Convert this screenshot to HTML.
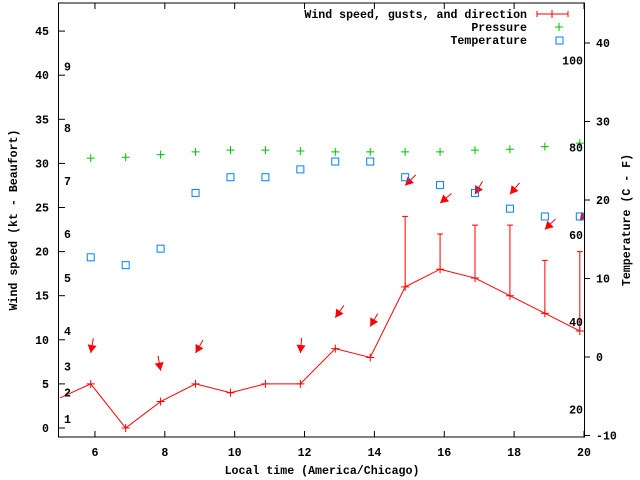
<!DOCTYPE html>
<html><head><meta charset="utf-8"><style>
body{margin:0;background:#fff}
svg{display:block;font-family:"Liberation Mono",monospace;font-size:11.6px;font-weight:bold}
</style></head><body>
<svg id="chart" width="640" height="480" viewBox="0 0 640 480" xmlns="http://www.w3.org/2000/svg"></svg>
<script>
const hours=[4.88,5.88,6.88,7.88,8.88,9.88,10.88,11.88,12.88,13.88,14.88,15.88,16.88,17.88,18.88,19.88];
const windSpeed=[3.2,5,0,3,5,4,5,5,9,8,16,18,17,15,13,11];
const windGust=[null,null,null,null,null,null,null,null,null,null,24,22,23,23,19,20];
const windDir=[null,10,null,350,30,null,null,5,35,30,45,50,30,40,45,40];
const pressure=[null,30.6,30.7,31.0,31.3,31.5,31.5,31.4,31.3,31.3,31.3,31.3,31.5,31.6,31.9,32.3];
const tempC=[null,12.7,11.7,13.8,20.9,22.9,22.9,23.9,24.9,24.9,22.9,21.9,20.9,18.9,17.9,17.9];
const xTicks=[6,8,10,12,14,16,18,20];
const yTicks=[0,5,10,15,20,25,30,35,40,45];
const y2Ticks=[-10,0,10,20,30,40];
const fTicks=[20,40,60,80,100];
const beaufortKt=[1,4,7,11,17,22,28,34,41];

const L=60,R=584,T=3,B=437;
const X=h=>L+(h-5)/15*(R-L);
const Y=v=>428-8.82*v;
const Y2=c=>357-7.85*c;
const NS="http://www.w3.org/2000/svg";
const svg=document.getElementById('chart');
function mk(tag,at,parent){const e=document.createElementNS(NS,tag);for(const k in at)e.setAttribute(k,at[k]);(parent||svg).appendChild(e);return e;}
const defs=mk('defs',{});
const cp=mk('clipPath',{id:'clip'},defs);mk('rect',{x:L,y:T,width:R-L,height:B-T},cp);
const g=mk('g',{'clip-path':'url(#clip)'});

let fr=mk('rect',{x:L-1.5,y:T,width:R-L+2,height:B-T,fill:'none',stroke:'#000','stroke-width':1});

xTicks.forEach(t=>{const x=X(t);
 mk('line',{x1:x,x2:x,y1:B,y2:B-6,stroke:'#000'});mk('line',{x1:x,x2:x,y1:T,y2:T+6,stroke:'#000'});
 const tx=mk('text',{x:x,y:B+19,'text-anchor':'middle'});tx.textContent=t;
 });
yTicks.forEach(t=>{const y=Y(t);
 mk('line',{x1:L-1.5,x2:L+5,y1:y,y2:y,stroke:'#000'});
 const tx=mk('text',{x:L-11,y:y+4,'text-anchor':'end'});tx.textContent=t;
 });
y2Ticks.forEach(t=>{const y=Y2(t);
 mk('line',{x1:R,x2:R+6,y1:y,y2:y,stroke:'#000'});
 const tx=mk('text',{x:R+12,y:y+4,'text-anchor':'start'});tx.textContent=t;
 });
fTicks.forEach(f=>{const y=Y2((f-32)*5/9);
 const tx=mk('text',{x:R-1,y:y+4,'text-anchor':'end'});tx.textContent=f;
 });
beaufortKt.forEach((k,i)=>{
 const tx=mk('text',{x:64,y:Y(k)+4});tx.textContent=i+1;
 });

let t1=mk('text',{x:0,y:0,'text-anchor':'middle',transform:'translate(17,220) rotate(-90)'});t1.textContent='Wind speed (kt - Beaufort)';

let t2=mk('text',{x:0,y:0,'text-anchor':'middle',transform:'translate(630,220) rotate(-90)'});t2.textContent='Temperature (C - F)';

let t3=mk('text',{x:(L+R)/2,y:474,'text-anchor':'middle'});t3.textContent='Local time (America/Chicago)';


const red='#ff0000',green='#00c000',blue='#0080ff';
let pts=hours.map((h,i)=>X(h)+','+Y(windSpeed[i])).join(' ');
let wl=mk('polyline',{points:pts,fill:'none',stroke:red,'stroke-width':1},g);

hours.forEach((h,i)=>{const x=X(h),y=Y(windSpeed[i]);
 const p=mk('path',{d:`M${x-4},${y}h8M${x},${y-4}v8`,stroke:red},g);
 
 if(windGust[i]!=null){const yg=Y(windGust[i]);
  const e=mk('path',{d:`M${x},${y}V${yg}M${x-3},${yg}h6`,stroke:red},g);
  }
 if(windDir[i]!=null){const top=Math.max(windSpeed[i],windGust[i]||0)+3.5;const hy=Y(top);
  const d=windDir[i]*Math.PI/180,len=15;const ux=-Math.sin(d),uy=Math.cos(d);
  const tx=x-ux*len,ty=hy-uy*len;
  const a=mk('g',{},g);
  mk('line',{x1:tx,y1:ty,x2:x,y2:hy,stroke:red},a);
  const px=-uy,py=ux,bx=x-ux*8,by=hy-uy*8;
  mk('polygon',{points:`${x},${hy} ${bx+px*4.5},${by+py*4.5} ${bx-px*4.5},${by-py*4.5}`,fill:red},a);}
});
hours.forEach((h,i)=>{if(pressure[i]==null)return;const x=X(h),y=Y(pressure[i]);
 const p=mk('path',{d:`M${x-4},${y}h8M${x},${y-4}v8`,stroke:green},g);
 });
hours.forEach((h,i)=>{if(tempC[i]==null)return;const x=X(h),y=Y2(tempC[i]);
 const r=mk('rect',{x:x-3.5,y:y-3.5,width:7,height:7,fill:'none',stroke:blue},g);
 });

const lg=mk('g',{});
[['Wind speed, gusts, and direction',14],['Pressure',27],['Temperature',40]].forEach((e,i)=>{
 const tx=mk('text',{x:527,y:e[1]+4,'text-anchor':'end'},lg);tx.textContent=e[0];
 });
mk('path',{d:'M537,14h31M537,11v6M568,11v6M552,10v8',stroke:red},lg);
mk('path',{d:'M555,27h8M559,23v8',stroke:green},lg);
mk('rect',{x:556,y:37,width:7,height:7,fill:'none',stroke:blue},lg);
</script>
</body></html>
